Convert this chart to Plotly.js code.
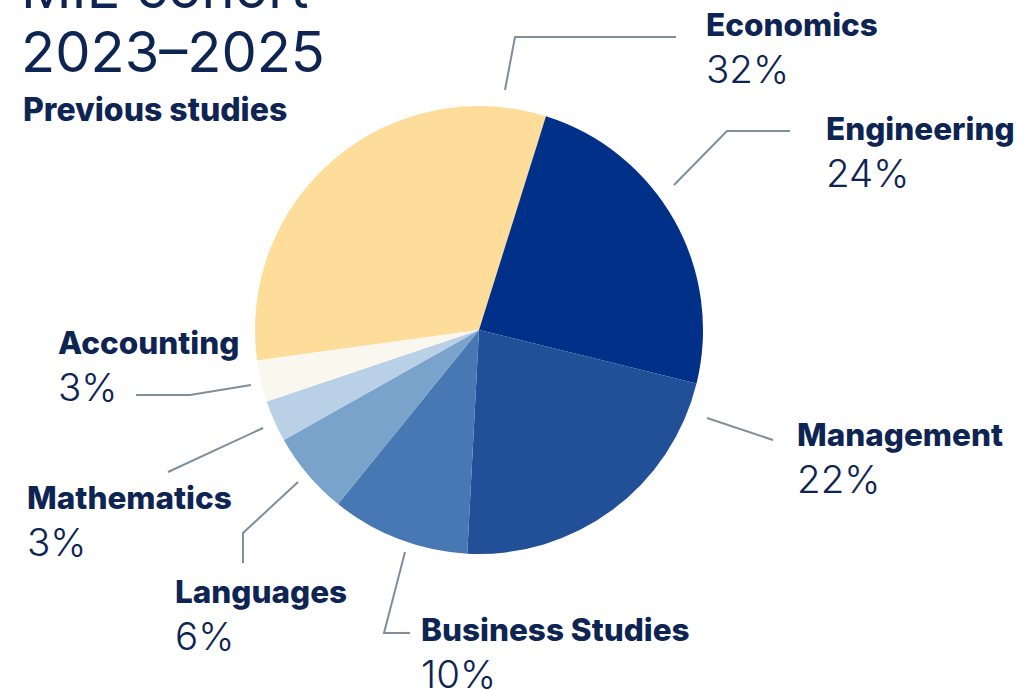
<!DOCTYPE html>
<html>
<head>
<meta charset="utf-8">
<script src="https://cdn.plot.ly/plotly-3.0.1.min.js"></script>
<style>
html,body{margin:0;padding:0;background:#fff;}
#chart{width:1023px;height:690px;}
</style>
</head>
<body>
<div id="chart"></div>
<script>
// ---- data ----
const categories = ["Economics", "Engineering", "Management", "Business Studies", "Languages", "Mathematics", "Accounting"];
const shares = [32, 24, 22, 10, 6, 3, 3];
const percentLabels = ["32%", "24%", "22%", "10%", "6%", "3%", "3%"];
const titleLines = ["MIE cohort", "2023–2025"];
const subtitle = "Previous studies";

// ---- styles / layout config (pixels) ----
const W = 1023, H = 690;
const colors = ["#FEDC9A", "#003087", "#215099", "#4878B3", "#79A3CB", "#B9D0E6", "#F9F7EE"];
const textColor = "#0E2452";
const lineColor = "#7E8E9B";
const pie = {cx: 479, cy: 330, r: 224};
// label anchor (left x, baseline of name) and leader polyline per category
const labelPos = [
  {x: 707, y: 36,  leader: [[505, 90], [515, 37], [676, 37]]},
  {x: 827, y: 140, leader: [[674, 185], [727, 131], [790, 131]]},
  {x: 798, y: 446, leader: [[707, 418], [773, 440]]},
  {x: 422, y: 641, leader: [[405, 552], [384, 633], [410, 633]]},
  {x: 176, y: 603, leader: [[298, 482], [243, 533], [243, 563]]},
  {x: 28,  y: 509, leader: [[263, 428], [168, 472]]},
  {x: 59,  y: 354, leader: [[251, 385], [190, 395], [136, 395]]}
];
const nameSize = 31.5, pctSize = 38.5, pctGap = 47;
const font = "Inter, 'Noto Sans', sans-serif";

const px = x => x / W;
const py = y => 1 - y / H;

// Economics slice starts at ~262 deg clockwise from 12 o'clock so it ends ~17 deg past it
const total = shares.reduce((a, b) => a + b, 0);
const econEndDeg = 17.4;
const rotation = econEndDeg - (shares[0] / total) * 360;

const trace = {
  type: "pie",
  labels: categories,
  values: shares,
  sort: false,
  direction: "clockwise",
  rotation: rotation,
  marker: {colors: colors, line: {width: 0}},
  textinfo: "none",
  hoverinfo: "label+percent",
  showlegend: false,
  domain: {x: [px(pie.cx - pie.r), px(pie.cx + pie.r)], y: [py(pie.cy + pie.r), py(pie.cy - pie.r)]}
};

const annotations = [];
const shapes = [];
categories.forEach((c, i) => {
  const p = labelPos[i];
  annotations.push({
    xref: "paper", yref: "paper", x: px(p.x - 3), y: py(p.y - nameSize * 0.36),
    xanchor: "left", yanchor: "middle", showarrow: false,
    text: c, font: {family: font, size: nameSize, color: textColor, weight: 800}
  });
  annotations.push({
    xref: "paper", yref: "paper", x: px(p.x - 3), y: py(p.y + pctGap - pctSize * 0.36),
    xanchor: "left", yanchor: "middle", showarrow: false,
    text: percentLabels[i], font: {family: font, size: pctSize, color: textColor, weight: 300}
  });
  const path = p.leader.map((pt, k) => (k ? "L" : "M") + px(pt[0]) + "," + py(pt[1])).join(" ");
  shapes.push({type: "path", xref: "paper", yref: "paper", path: path,
    line: {color: lineColor, width: 2}});
});
// title lines
const titleSize = 56;
annotations.push({
  xref: "paper", yref: "paper", x: px(19), y: py(8 - titleSize * 0.36),
  xanchor: "left", yanchor: "middle", showarrow: false,
  text: titleLines[0], font: {family: font, size: titleSize, color: textColor, weight: 400}
});
annotations.push({
  xref: "paper", yref: "paper", x: px(19), y: py(72 - titleSize * 0.36),
  xanchor: "left", yanchor: "middle", showarrow: false,
  text: titleLines[1], font: {family: font, size: titleSize, color: textColor, weight: 400}
});
const subSize = 32;
annotations.push({
  xref: "paper", yref: "paper", x: px(21), y: py(121 - subSize * 0.36),
  xanchor: "left", yanchor: "middle", showarrow: false,
  text: subtitle, font: {family: font, size: subSize, color: textColor, weight: 800}
});

const layout = {
  width: W, height: H,
  margin: {l: 0, r: 0, t: 0, b: 0},
  paper_bgcolor: "#ffffff",
  plot_bgcolor: "#ffffff",
  showlegend: false,
  annotations: annotations,
  shapes: shapes
};
Plotly.newPlot("chart", [trace], layout, {displayModeBar: false, staticPlot: true});
</script>
</body>
</html>
